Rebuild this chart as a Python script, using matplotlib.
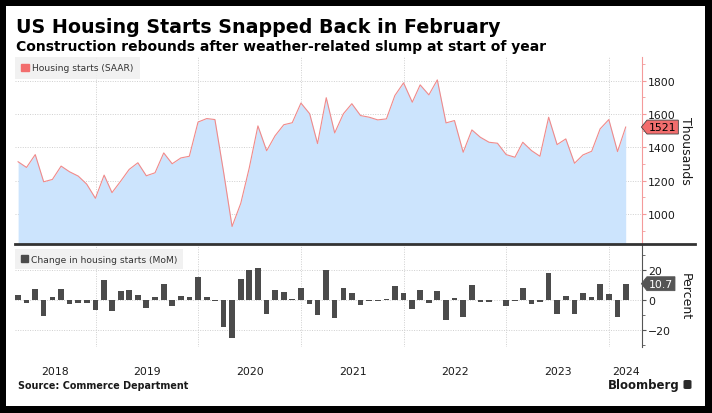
import matplotlib
matplotlib.use("Agg")
import matplotlib.pyplot as plt
import matplotlib.dates as mdates
import matplotlib.transforms as mtransforms
from matplotlib.patches import Patch, Rectangle, FancyBboxPatch
from matplotlib.lines import Line2D
from matplotlib.path import Path
import pandas as pd

# monthly data, Mar 2018 - Feb 2024
dates = pd.date_range("2018-03-31", periods=72, freq="ME")
starts = [1313, 1279, 1356, 1193, 1207, 1287, 1253, 1227, 1179, 1094,
          1233, 1128, 1197, 1267, 1307, 1229, 1247, 1366, 1301, 1336, 1346, 1551,
          1572, 1566, 1250, 925, 1064, 1275, 1528, 1379, 1469, 1535, 1547, 1665,
          1601, 1422, 1697, 1486, 1601, 1661, 1590, 1580, 1564, 1570, 1710, 1786,
          1670, 1774, 1714, 1804, 1546, 1560, 1370, 1504, 1460, 1430, 1424, 1356,
          1340, 1430, 1380, 1346, 1580, 1416, 1450, 1304, 1354, 1376, 1510, 1566,
          1374, 1521]
mom = [3.0, -2.4, 7.0, -11.0, 2.0, 7.0, -2.5, -2.0, -2.2, -6.7,
       13.0, -7.5, 6.0, 6.4, 3.5, -5.5, 1.8, 10.4, -4.2, 2.7, 1.8, 15.5,
       1.8, -0.5, -18.0, -25.8, 14.0, 20.0, 21.0, -9.3, 6.4, 5.3, 0.8, 8.0,
       -2.7, -10.4, 19.8, -12.0, 8.0, 4.5, -3.3, -0.7, -0.5, 0.5, 9.0, 4.4,
       -6.0, 6.4, -2.4, 5.8, -13.3, 1.5, -11.3, 9.8, -1.6, -1.3, -0.4, -4.2,
       -0.9, 7.8, -3.1, -1.6, 17.6, -9.6, 2.4, -9.3, 4.2, 2.0, 10.4, 3.8,
       -11.3, 10.7]
years = [2018, 2019, 2020, 2021, 2022, 2023, 2024]

RED = "#f26d6d"
LINE = "#f08a8a"
FILL = "#cce4fd"
BAR = "#4b4b4b"
GRID = "#cfcfcf"
TXT = "#1a1a1a"

plt.rcParams["font.family"] = ["DejaVu Sans"]

W, H = 712, 414
fig = plt.figure(figsize=(W / 100, H / 100), dpi=100, facecolor="black")
# white card on black frame
fig.patches.append(Rectangle((6 / W, 1 - 407 / H), 699 / W, 400 / H,
                             transform=fig.transFigure, fc="white", ec="none", zorder=-5))

L, R = 15 / W, 642 / W
ax1 = fig.add_axes([L, 1 - 244 / H, R - L, 186 / H])
ax2 = fig.add_axes([L, 1 - 348 / H, R - L, 102 / H])

xmin, xmax = pd.Timestamp("2018-03-20"), pd.Timestamp("2024-04-27")


def tag_box(x0, y0, width, height, mutation_size):
    pad = mutation_size * 0.18
    x0, y0 = x0 - pad, y0 - pad
    width, height = width + 2 * pad, height + 2 * pad
    tip = height * 0.4
    verts = [(x0, y0), (x0 + width, y0), (x0 + width, y0 + height),
             (x0, y0 + height), (x0 - tip, y0 + height / 2), (x0, y0)]
    return Path(verts, closed=True)


for ax in (ax1, ax2):
    ax.set_facecolor("none")
    ax.set_xlim(xmin, xmax)
    ax.xaxis.set_major_locator(mdates.YearLocator())
    ax.grid(True, which="major", color=GRID, ls=(0, (1, 1.5)), lw=0.7)
    ax.set_axisbelow(True)
    for s in ("top", "left", "bottom"):
        ax.spines[s].set_visible(False)
    ax.yaxis.tick_right()
    ax.yaxis.set_label_position("right")
    ax.tick_params(axis="x", which="both", length=0, labelbottom=False)
    ax.tick_params(axis="y", which="both", direction="out", labelsize=7.8,
                   labelcolor=TXT, pad=1.5)
    ax.tick_params(axis="y", which="major", length=3)
    ax.tick_params(axis="y", which="minor", length=2)

# top panel: level
ax1.fill_between(dates, starts, 0, color=FILL, lw=0, zorder=2)
ax1.plot(dates, starts, color=LINE, lw=0.8, zorder=3)
ax1.set_ylim(826, 1941)
ax1.set_yticks([1000, 1200, 1400, 1600, 1800])
ax1.set_yticks(range(900, 1901, 100), minor=True)
ax1.spines["right"].set_color("#f49a9a")
ax1.tick_params(axis="y", which="both", color="#f49a9a")
ax1.set_ylabel("Thousands", rotation=270, fontsize=9, color=TXT, va="center", ha="center")
ax1.yaxis.set_label_coords(1.069, 0.5)
ax1.legend(handles=[Patch(color=RED, label="Housing starts (SAAR)")],
           loc="upper left", bbox_to_anchor=(0, 1), borderaxespad=0,
           fancybox=False, facecolor="#efefef", edgecolor="none", framealpha=0.85,
           fontsize=6.6, handlelength=0.85, handleheight=0.85, handletextpad=0.3,
           borderpad=0.7, labelcolor="#333333")

tr1 = mtransforms.blended_transform_factory(ax1.transAxes, ax1.transData)
ax1.text(1.011, starts[-1], f"{starts[-1]}", transform=tr1, ha="left", va="center",
         fontsize=7.8, color="black",
         bbox=dict(boxstyle=tag_box, fc=RED, ec="#444444", lw=0.6))

# bottom panel: MoM change
ax2.bar(dates, mom, width=20, color=BAR, zorder=2)
ax2.set_ylim(-31.5, 36.5)
ax2.set_yticks([-20, 0, 20])
ax2.set_yticks([-30, -10, 10, 30], minor=True)
ax2.spines["right"].set_color("#555555")
ax2.tick_params(axis="y", which="both", color="#555555")
ax2.set_ylabel("Percent", rotation=270, fontsize=9, color=TXT, va="center", ha="center")
ax2.yaxis.set_label_coords(1.069, 0.5)
ax2.legend(handles=[Patch(color=BAR, label="Change in housing starts (MoM)")],
           loc="upper left", bbox_to_anchor=(0, 0.96), borderaxespad=0,
           fancybox=False, facecolor="#efefef", edgecolor="none", framealpha=0.85,
           fontsize=6.6, handlelength=0.85, handleheight=0.85, handletextpad=0.3,
           borderpad=0.6, labelcolor="#333333")

tr2 = mtransforms.blended_transform_factory(ax2.transAxes, ax2.transData)
ax2.text(1.011, mom[-1], f"{mom[-1]:.1f}", transform=tr2, ha="left", va="center",
         fontsize=7.8, color="white",
         bbox=dict(boxstyle=tag_box, fc="#555555", ec="#555555", lw=0.6))

# year labels centred on the visible part of each year
centers = []
for y in years:
    a = max(pd.Timestamp(f"{y}-01-01"), xmin)
    b = min(pd.Timestamp(f"{y + 1}-01-01"), xmax)
    centers.append(a + (b - a) / 2)
ax2.set_xticks(centers, [str(y) for y in years], minor=True)
ax2.tick_params(axis="x", which="minor", labelbottom=True, labelsize=7.8,
                labelcolor=TXT, pad=14)

# separator between panels
fig.add_artist(Line2D([15 / W, 695 / W], [1 - 245 / H] * 2, transform=fig.transFigure,
                      color="#333333", lw=2))

fig.text(16 / W, 1 - 33 / H, "US Housing Starts Snapped Back in February",
         fontsize=13.7, fontweight="bold", color="black", va="baseline")
fig.text(16 / W, 1 - 50.7 / H,
         "Construction rebounds after weather-related slump at start of year",
         fontsize=10.0, fontweight="bold", color="black", va="baseline")
fig.text(18 / W, 1 - 389 / H, "Source: Commerce Department", fontsize=6.9,
         fontweight="bold", color=TXT, va="baseline")
fig.text(680 / W, 1 - 389 / H, "Bloomberg", fontsize=8.5, fontweight="bold",
         color=TXT, va="baseline", ha="right")
fig.patches.append(FancyBboxPatch((683.5 / W, 1 - 390 / H), 8 / W, 9 / H,
                                  boxstyle="round,pad=0,rounding_size=0.003",
                                  transform=fig.transFigure, fc="#2b2b2b", ec="none"))

fig.savefig("out.png", dpi=100, facecolor="black")
